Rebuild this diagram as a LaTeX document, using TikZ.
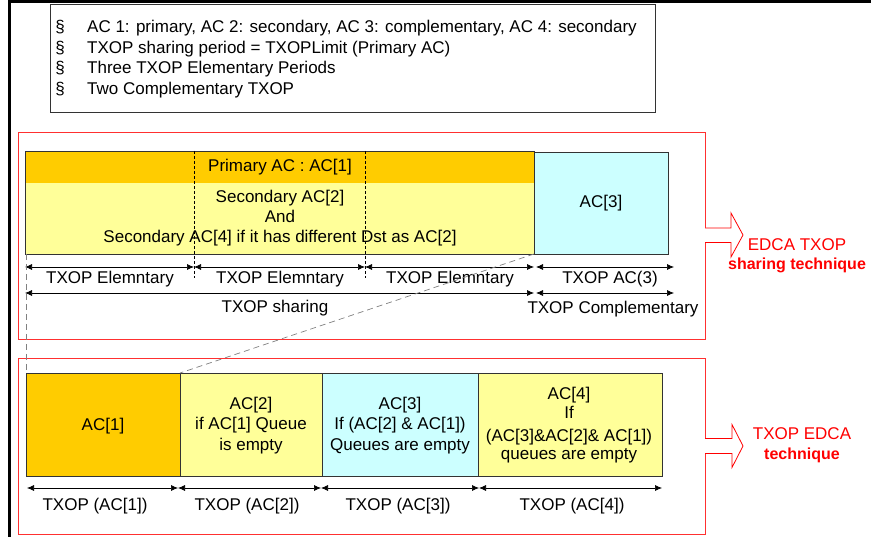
\documentclass[tikz,border=0pt]{standalone}
\usepackage{fontspec}
\setmainfont{Liberation Sans}
\usetikzlibrary{arrows.meta}
\definecolor{acorange}{HTML}{FFCC00}
\definecolor{acyellow}{HTML}{FFFF99}
\definecolor{accyan}{HTML}{CCFFFF}
\definecolor{panelred}{HTML}{FF3030}
\definecolor{boxgray}{HTML}{333333}
\begin{document}
\begin{tikzpicture}[x=1pt,y=-1pt,
  txt/.style={font=\fontsize{17}{20}\selectfont, inner sep=0, anchor=base},
  redtxt/.style={font=\fontsize{17}{20}\selectfont, text=red, inner sep=0, anchor=base},
  redbold/.style={font=\fontsize{16}{20}\selectfont\bfseries, text=red, inner sep=0, anchor=base},
  acbox/.style={draw=boxgray, line width=0.9pt, anchor=north west, inner sep=0, outer sep=0},
  panel/.style={draw=panelred, line width=0.8pt, anchor=north west, inner sep=0, outer sep=0},
  dimarrow/.style={{Latex[length=7pt,width=6pt]}-{Latex[length=7pt,width=6pt]}, line width=0.7pt},
  divider/.style={dash pattern=on 3pt off 2pt, line width=0.6pt},
  guide/.style={draw=gray, dash pattern=on 6pt off 4pt, line width=0.7pt},
  fatarrow/.style={draw=red, fill=white, line width=0.8pt, line join=miter}
]
\useasboundingbox (0,0) rectangle (871,537);
% outer frame (top and left edges)
\draw[line width=2.6pt] (9.3,537) -- (9.3,1.3) -- (871,1.3);

% legend box
\node[draw=boxgray, line width=0.9pt, anchor=north west, minimum width=605, minimum height=108, inner sep=0] (legend) at (50,4) {};
\foreach \yy/\tt [count=\i] in {32.3/{AC 1: primary, AC 2: secondary, AC 3: complementary, AC 4: secondary},
                   53.3/{TXOP sharing period = TXOPLimit (Primary AC)},
                   74/{Three TXOP Elementary Periods},
                   94.6/{Two Complementary TXOP}}{
  \node[txt] (bul\i) at (60,\yy) {\S};
  \node[txt, anchor=base west] (leg\i) at (87,\yy) {\tt};
}

% panels
\node[panel, minimum width=687, minimum height=207] (up) at (18,132) {};
\node[panel, minimum width=687, minimum height=176] (low) at (18,358) {};

% upper bar
\fill[acorange] (25,151) rectangle (534,183);
\fill[acyellow] (25,183) rectangle (534,254);
\node[acbox, minimum width=509, minimum height=103] (bar) at (25,151) {};
\node[acbox, fill=accyan, minimum width=134, minimum height=102] (ac3u) at (534,152) {};
\node[txt] (prim) at (280,172) {Primary AC : AC[1]};
\node[txt] (sec1) at (280,203) {Secondary AC[2]};
\node[txt] (sec2) at (280,223) {And};
\node[txt] (sec3) at (280,243) {Secondary AC[4] if it has different Dst as AC[2]};
\node[txt] (ac3t) at (601,208) {AC[3]};

% dividers
\coordinate (v1t) at (194,151); \coordinate (v1b) at (194,278);
\coordinate (v2t) at (365,151); \coordinate (v2b) at (365,278);
\draw[divider] (v1t) -- (v1b);
\draw[divider] (v2t) -- (v2b);

% upper dimension arrows
\coordinate (a0) at (25,267);
\coordinate (a1) at (194,267);
\coordinate (a2) at (365,267);
\coordinate (a3) at (534,267);
\coordinate (a4) at (536,267);
\coordinate (a5) at (674,267);
\draw[dimarrow] (a0) -- (a1);
\draw[dimarrow] (a1) -- (a2);
\draw[dimarrow] (a2) -- (a3);
\draw[dimarrow] (a4) -- (a5);
\node[txt] (el1) at (110,284) {TXOP Elemntary};
\node[txt] (el2) at (280,284) {TXOP Elemntary};
\node[txt] (el3) at (450,284) {TXOP Elemntary};
\node[txt] (tac3) at (610,284) {TXOP AC(3)};
\coordinate (b0) at (25,293);
\coordinate (b1) at (534,293);
\coordinate (b2) at (536,293);
\coordinate (b3) at (674,293);
\draw[dimarrow] (b0) -- (b1);
\draw[dimarrow] (b2) -- (b3);
\node[txt] (shr) at (275,313) {TXOP sharing};
\node[txt] (cmp) at (613,314) {TXOP Complementary};

% lower boxes
\node[acbox, fill=acorange, minimum width=154, minimum height=103] (lb1) at (26,373) {};
\node[acbox, fill=acyellow, minimum width=142, minimum height=103] (lb2) at (180,373) {};
\node[acbox, fill=accyan, minimum width=156, minimum height=103] (lb3) at (322,373) {};
\node[acbox, fill=acyellow, minimum width=184, minimum height=103] (lb4) at (478,373) {};

% guide lines
\coordinate (g0) at (26,254);
\draw[guide] (g0) -- (lb1.north west);
\draw[guide] (ac3u.south west) -- (lb1.north east);

\node[txt] (t1) at (lb1.center |- 0,431) {AC[1]};
\node[txt] (t2a) at (251,410) {AC[2]};
\node[txt] (t2b) at (251,430) {if AC[1] Queue};
\node[txt] (t2c) at (251,450) {is empty};
\node[txt] (t3a) at (400,410) {AC[3]};
\node[txt] (t3b) at (400,430) {If (AC[2] \& AC[1])};
\node[txt] (t3c) at (400,450) {Queues are empty};
\node[txt] (t4a) at (569,400) {AC[4]};
\node[txt] (t4b) at (569,418.3) {If};
\node[txt] (t4c) at (569,441.7) {(AC[3]\&AC[2]\& AC[1])};
\node[txt] (t4d) at (569,460) {queues are empty};

% lower dimension arrows
\coordinate (c0) at (27,488);
\coordinate (c1) at (178,488);
\coordinate (c2) at (321,488);
\coordinate (c3) at (479,488);
\coordinate (c4) at (662,488);
\draw[dimarrow] (c0) -- (c1);
\draw[dimarrow] (c1) -- (c2);
\draw[dimarrow] (c2) -- (c3);
\draw[dimarrow] (c3) -- (c4);
\node[txt] (x1) at (95,511) {TXOP (AC[1])};
\node[txt] (x2) at (247,511) {TXOP (AC[2])};
\node[txt] (x3) at (398,511) {TXOP (AC[3])};
\node[txt] (x4) at (572,511) {TXOP (AC[4])};

% right fat arrows
\draw[fatarrow] (up.east) ++(0,-7.5) -- ++(26,0) -- ++(0,-15) -- ++(12,22) -- ++(-12,22) -- ++(0,-14.5) -- ++(-26,0);
\draw[fatarrow] (low.east) ++(0,-7.5) -- ++(27,0) -- ++(0,-14) -- ++(11,21.5) -- ++(-11,21.5) -- ++(0,-14) -- ++(-27,0);
\node[redtxt] (r1a) at (797,250.7) {EDCA TXOP};
\node[redbold] (r1b) at (797,270) {sharing technique};
\node[redtxt] (r2a) at (802,440) {TXOP EDCA};
\node[redbold] (r2b) at (802,460) {technique};
\end{tikzpicture}
\end{document}
